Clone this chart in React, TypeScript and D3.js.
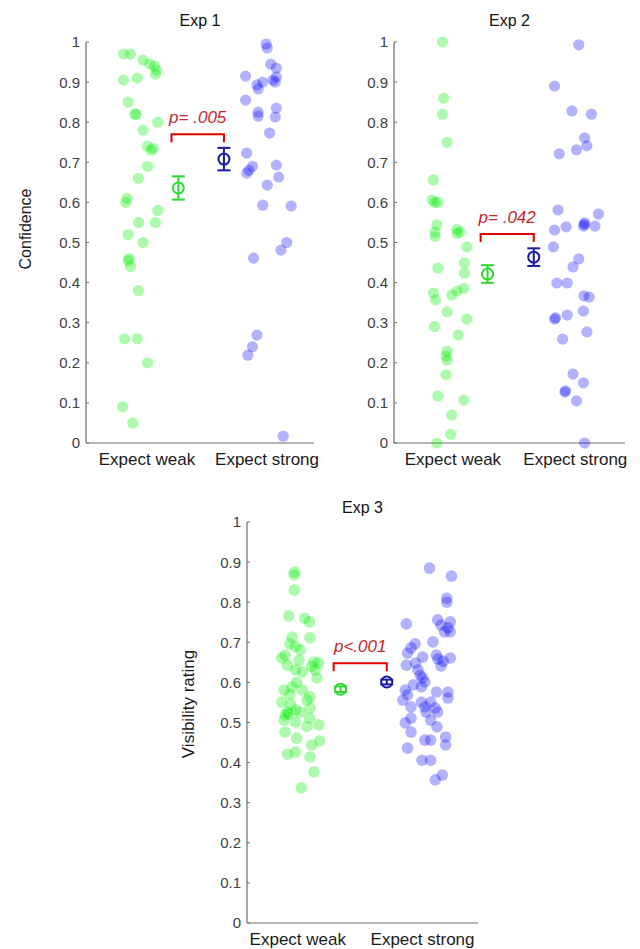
import React from 'react';
import * as d3 from 'd3';

// groups + axis ticks
const groups = ['Expect weak', 'Expect strong'];
const yTicks = [0, 0.1, 0.2, 0.3, 0.4, 0.5, 0.6, 0.7, 0.8, 0.9, 1];

// individual subjects: [jittered x, rating]
const exp1Weak: [number, number][] = [
  [0.83, 0.97], [0.89, 0.97], [1.0, 0.955], [1.06, 0.945], [1.1, 0.94], [1.12, 0.93], [1.11, 0.92],
  [0.83, 0.905], [0.95, 0.91], [0.87, 0.85], [0.93, 0.82], [0.94, 0.82], [1.13, 0.8], [1.0, 0.78],
  [1.04, 0.74], [1.09, 0.735], [1.07, 0.73], [1.04, 0.69], [0.96, 0.66], [0.86, 0.61], [0.85, 0.6],
  [1.13, 0.58], [0.96, 0.55], [1.11, 0.55], [0.87, 0.52], [1.0, 0.5], [0.88, 0.46], [0.87, 0.455],
  [0.89, 0.44], [0.96, 0.38], [0.84, 0.26], [0.95, 0.26], [1.04, 0.2], [0.82, 0.09], [0.91, 0.05],
];
const exp1Strong: [number, number][] = [
  [2.08, 0.995], [2.09, 0.985], [2.12, 0.945], [2.17, 0.935], [1.9, 0.915], [2.0, 0.893], [2.05, 0.9],
  [2.14, 0.905], [2.17, 0.913], [2.16, 0.9], [2.01, 0.883], [1.9, 0.855], [2.01, 0.825], [2.01, 0.815],
  [2.17, 0.835], [2.16, 0.813], [2.11, 0.773], [1.91, 0.723], [1.96, 0.69], [1.91, 0.673], [1.93, 0.68],
  [2.17, 0.693], [2.19, 0.663], [2.09, 0.643], [2.05, 0.593], [2.3, 0.591], [2.26, 0.5], [2.21, 0.481],
  [1.97, 0.461], [2.0, 0.269], [1.96, 0.24], [1.92, 0.219], [2.23, 0.017],
];
const exp2Weak: [number, number][] = [
  [0.92, 1.0], [0.93, 0.86], [0.92, 0.82], [0.96, 0.75], [0.84, 0.656], [0.83, 0.606], [0.855, 0.6],
  [0.88, 0.6], [0.87, 0.544], [0.855, 0.526], [1.045, 0.533], [1.07, 0.526], [0.855, 0.515], [1.045, 0.523],
  [1.13, 0.489], [0.88, 0.436], [1.11, 0.449], [1.11, 0.424], [0.84, 0.374], [0.86, 0.357], [1.0, 0.369],
  [1.045, 0.379], [1.105, 0.386], [0.96, 0.327], [1.13, 0.309], [0.85, 0.29], [1.055, 0.269], [0.96, 0.229],
  [0.95, 0.217], [0.96, 0.207], [0.95, 0.17], [0.88, 0.117], [1.105, 0.107], [1.0, 0.07], [0.99, 0.022],
  [0.87, 0.0],
];
const exp2Strong: [number, number][] = [
  [2.1, 0.993], [1.89, 0.89], [2.04, 0.828], [2.21, 0.82], [2.15, 0.761], [2.17, 0.741], [2.08, 0.731],
  [1.93, 0.721], [1.92, 0.581], [2.27, 0.571], [2.15, 0.549], [2.14, 0.541], [2.15, 0.545], [2.24, 0.541],
  [1.99, 0.539], [1.89, 0.531], [1.88, 0.489], [2.1, 0.459], [2.05, 0.439], [1.91, 0.399], [2.0, 0.399],
  [2.145, 0.367], [2.19, 0.364], [2.14, 0.329], [2.0, 0.319], [1.89, 0.309], [1.9, 0.312], [2.17, 0.277],
  [1.96, 0.259], [2.05, 0.172], [2.14, 0.15], [1.98, 0.127], [1.985, 0.13], [2.08, 0.105], [2.15, 0.0],
];
const exp3Weak: [number, number][] = [
  [0.91, 0.875], [0.91, 0.868], [0.91, 0.83], [0.86, 0.766], [1.0, 0.76], [1.04, 0.751], [0.89, 0.713],
  [1.045, 0.711], [0.87, 0.696], [0.92, 0.689], [0.96, 0.681], [0.83, 0.668], [0.8, 0.661], [1.08, 0.651],
  [1.12, 0.648], [0.85, 0.643], [0.92, 0.631], [0.98, 0.626], [1.09, 0.631], [1.105, 0.611], [0.82, 0.581],
  [0.89, 0.589], [0.98, 0.581], [1.045, 0.564], [1.02, 0.556], [0.8, 0.551], [0.85, 0.526], [0.86, 0.521],
  [0.83, 0.519], [0.92, 0.531], [0.96, 0.526], [1.045, 0.536], [0.82, 0.506], [0.92, 0.501], [1.04, 0.511],
  [1.12, 0.494], [0.83, 0.476], [0.93, 0.461], [1.13, 0.454], [1.06, 0.444], [0.85, 0.421], [0.92, 0.426],
  [1.045, 0.414], [1.08, 0.377], [0.97, 0.337], [0.87, 0.57], [0.93, 0.6], [1.06, 0.64], [0.95, 0.655],
  [1.02, 0.49], [0.88, 0.545],
];
const exp3Strong: [number, number][] = [
  [2.08, 0.885], [2.27, 0.865], [2.23, 0.81], [2.23, 0.8], [1.88, 0.746], [2.15, 0.756], [2.26, 0.751],
  [2.18, 0.743], [2.24, 0.736], [2.21, 0.726], [2.26, 0.726], [1.955, 0.696], [2.11, 0.701], [1.92, 0.686],
  [1.89, 0.673], [2.02, 0.663], [2.14, 0.668], [2.155, 0.658], [2.2, 0.653], [2.26, 0.661], [1.88, 0.643],
  [1.96, 0.648], [2.18, 0.641], [1.98, 0.631], [2.0, 0.618], [2.02, 0.611], [2.04, 0.601], [2.01, 0.589],
  [1.94, 0.594], [1.87, 0.581], [2.14, 0.576], [2.24, 0.576], [1.89, 0.569], [2.24, 0.561], [1.85, 0.556],
  [2.01, 0.551], [2.09, 0.551], [1.92, 0.539], [2.04, 0.539], [2.13, 0.536], [2.05, 0.526], [2.15, 0.526],
  [1.92, 0.511], [2.09, 0.506], [1.87, 0.499], [2.145, 0.489], [1.92, 0.476], [2.22, 0.464], [2.04, 0.456],
  [2.09, 0.456], [2.22, 0.444], [1.89, 0.436], [2.015, 0.406], [2.09, 0.406], [2.19, 0.369], [2.13, 0.357],
];

// group means (weak, strong) and error bars, placed between the clouds
const meanX = [1.31, 1.71];
const exp1Means = [0.636, 0.708];
const exp1Err = [0.029, 0.028];
const exp2Means = [0.4215, 0.4635];
const exp2Err = [0.022, 0.022];
const exp3Means = [0.583, 0.601];
const exp3Err = [0.007, 0.006];

// significance brackets
const bracketX = [1.25, 1.71];
const bracketY = [0.77, 0.521, 0.648];
const pLabels = ['p= .005', 'p= .042', 'p<.001'];

const FONT = '"Liberation Sans", Arial, Helvetica, sans-serif';
const GREEN = '#00ee00';
const BLUE = '#0000ff';
const GREEN_M = '#2fd82f';
const BLUE_M = '#1a1aa8';

const panels = [
  {
    title: 'Exp 1', weak: exp1Weak, strong: exp1Strong, means: exp1Means, err: exp1Err,
    bracket: bracketY[0], p: pLabels[0], ylabel: 'Confidence', ylabSize: 16,
    left: 86, right: 314, top: 42, bottom: 443, titleY: 26, labelX: [1.035, 2.088],
    ylabX: 25, ylabY: 229, r: 5.6,
  },
  {
    title: 'Exp 2', weak: exp2Weak, strong: exp2Strong, means: exp2Means, err: exp2Err,
    bracket: bracketY[1], p: pLabels[1], ylabel: '', ylabSize: 16,
    left: 394, right: 625, top: 42, bottom: 443, titleY: 26, labelX: [1.01, 2.07],
    ylabX: 0, ylabY: 0, r: 5.6,
  },
  {
    title: 'Exp 3', weak: exp3Weak, strong: exp3Strong, means: exp3Means, err: exp3Err,
    bracket: bracketY[2], p: pLabels[2], ylabel: 'Visibility rating', ylabSize: 17,
    left: 247, right: 478, top: 522, bottom: 923, titleY: 513, labelX: [0.94, 2.02],
    ylabX: 188, ylabY: 704, r: 5.8,
  },
];

function Panel({ cfg }: { cfg: any }) {
  const x = d3.scaleLinear().domain([0.5, 2.5]).range([cfg.left, cfg.right]);
  const y = d3.scaleLinear().domain([0, 1]).range([cfg.bottom, cfg.top]);
  const cx = (cfg.left + cfg.right) / 2;
  const mcol = [GREEN_M, BLUE_M];
  const by = y(cfg.bracket);

  return (
    <g fontFamily={FONT}>
      <text x={cx} y={cfg.titleY} textAnchor="middle" fontSize={16} fill="#111">{cfg.title}</text>

      {/* axes */}
      <line x1={cfg.left} x2={cfg.left} y1={cfg.top} y2={cfg.bottom} stroke="#6e6e6e" strokeWidth={1.2} />
      <line x1={cfg.left} x2={cfg.right} y1={cfg.bottom} y2={cfg.bottom} stroke="#6e6e6e" strokeWidth={1.2} />
      {yTicks.map((t) => (
        <g key={t}>
          <line x1={cfg.left} x2={cfg.left + 3} y1={y(t)} y2={y(t)} stroke="#6e6e6e" />
          <text x={cfg.left - 6} y={y(t)} dy="0.36em" textAnchor="end" fontSize={15} fill="#404040">
            {d3.format('')(t)}
          </text>
        </g>
      ))}
      {groups.map((g, i) => (
        <text key={g} x={x(cfg.labelX[i])} y={cfg.bottom + 22} textAnchor="middle" fontSize={17} fill="#1a1a1a">{g}</text>
      ))}
      {cfg.ylabel && (
        <text transform={`translate(${cfg.ylabX},${cfg.ylabY}) rotate(-90)`} textAnchor="middle" dy="0.35em"
          fontSize={cfg.ylabSize} fill="#1a1a1a">{cfg.ylabel}</text>
      )}

      {/* subjects */}
      {cfg.weak.map((d: [number, number], i: number) => (
        <circle key={'w' + i} cx={x(d[0])} cy={y(d[1])} r={cfg.r} fill={GREEN} fillOpacity={0.32} />
      ))}
      {cfg.strong.map((d: [number, number], i: number) => (
        <circle key={'s' + i} cx={x(d[0])} cy={y(d[1])} r={cfg.r} fill={BLUE} fillOpacity={0.3} />
      ))}

      {/* means +- error */}
      {cfg.means.map((m: number, i: number) => {
        const mx = x(meanX[i]);
        const lo = y(m - cfg.err[i]);
        const hi = y(m + cfg.err[i]);
        return (
          <g key={'m' + i} stroke={mcol[i]} strokeWidth={2} fill="none">
            <line x1={mx} x2={mx} y1={lo} y2={hi} />
            <line x1={mx - 6.5} x2={mx + 6.5} y1={lo} y2={lo} />
            <line x1={mx - 6.5} x2={mx + 6.5} y1={hi} y2={hi} />
            <circle cx={mx} cy={y(m)} r={5.5} />
          </g>
        );
      })}

      {/* bracket */}
      <path
        d={`M${x(bracketX[0])},${by + 8}V${by}H${x(bracketX[1])}V${by + 8}`}
        fill="none" stroke="#e00000" strokeWidth={2}
      />
      <text x={(x(bracketX[0]) + x(bracketX[1])) / 2} y={by - 11} textAnchor="middle" fontSize={17}
        fontStyle="italic" fill="#c8262b">{cfg.p}</text>
    </g>
  );
}

export default function App() {
  return (
    <div style={{ position: 'absolute', left: 0, top: 0 }}>
      <svg width={640} height={949} style={{ display: 'block', background: '#fff' }}>
        {panels.map((p) => <Panel key={p.title} cfg={p} />)}
      </svg>
    </div>
  );
}
